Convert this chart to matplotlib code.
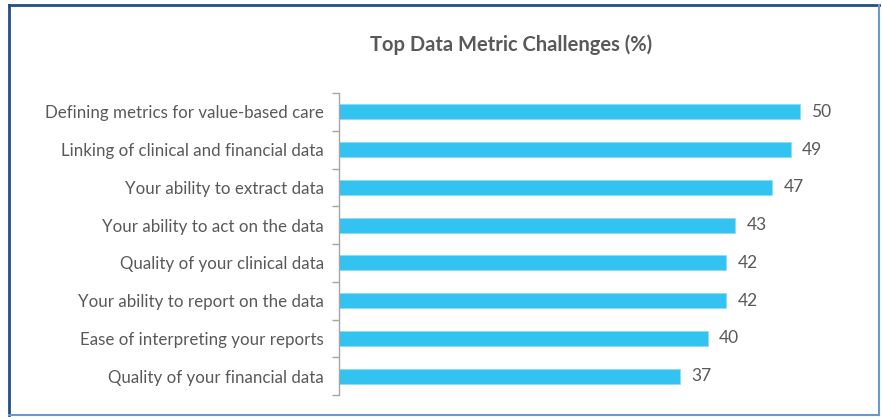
import matplotlib
matplotlib.use("Agg")
import matplotlib.pyplot as plt
from matplotlib.lines import Line2D

categories = [
    "Defining metrics for value-based care",
    "Linking of clinical and financial data",
    "Your ability to extract data",
    "Your ability to act on the data",
    "Quality of your clinical data",
    "Your ability to report on the data",
    "Ease of interpreting your reports",
    "Quality of your financial data",
]
values = [50, 49, 47, 43, 42, 42, 40, 37]
title = "Top Data Metric Challenges (%)"

W, H = 882, 417
plt.rcParams['font.family'] = ['Lato', 'DejaVu Sans']
fig = plt.figure(figsize=(W / 100, H / 100), dpi=100)

x0, x1 = 339, 860
y_top, y_bot = 93, 395
ax = fig.add_axes([x0 / W, 1 - y_bot / H, (x1 - x0) / W, (y_bot - y_top) / H])

bar_color = "#33C3F0"
text_color = "#595959"
n = len(categories)
pos = list(range(n))
ax.barh(pos, values, height=0.4, color=bar_color, edgecolor="#8EDCF7", linewidth=0.6)
ax.set_ylim(n - 0.5, -0.5)
ax.set_xlim(0, (x1 - x0) / 9.22)

for p, v in zip(pos, values):
    ax.text(v + 1.2, p, f"{v}", va="center", ha="left", fontsize=12.5, color=text_color)

ax.set_yticks([p + 0.5 for p in [-1] + pos])
ax.set_yticklabels([])
ax.set_yticks(pos, minor=True)
ax.set_yticklabels(categories, minor=True, fontsize=12.2, color=text_color)
ax.tick_params(axis="y", which="minor", length=0, pad=11)
ax.tick_params(axis="y", which="major", length=5, width=1, color="#A6A6A6")
ax.set_xticks([])
for s in ["top", "right", "bottom"]:
    ax.spines[s].set_visible(False)
ax.spines["left"].set_color("#A6A6A6")
ax.spines["left"].set_linewidth(1)

fig.text(511 / W, 1 - 45 / H, title, ha="center", va="center", fontsize=14.5,
         fontweight="bold", color=text_color)

dark = "#1F4E8C"
light = "#6A9ACB"
def fx(x): return x / W
def fy(y): return 1 - y / H
fig.add_artist(Line2D([fx(9), fx(879)], [fy(5), fy(5)], color=dark, lw=2))
fig.add_artist(Line2D([fx(9), fx(9)], [fy(5), fy(415)], color=dark, lw=2))
fig.add_artist(Line2D([fx(879), fx(879)], [fy(5), fy(415)], color=light, lw=1.5))
fig.add_artist(Line2D([fx(9), fx(879)], [fy(415), fy(415)], color=light, lw=1.5))

fig.savefig("out.png", dpi=100)
